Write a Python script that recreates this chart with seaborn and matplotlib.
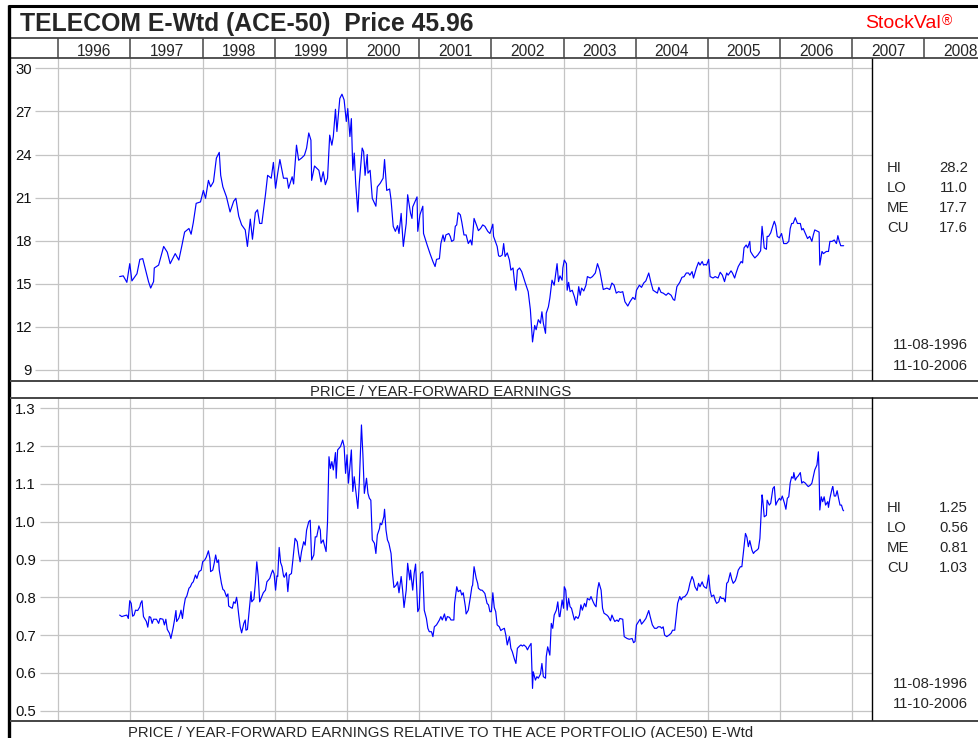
import matplotlib
matplotlib.use("Agg")

import matplotlib.pyplot as plt
import pandas as pd
import seaborn as sns

# ── data (decimal years, weekly-ish samples) ────────────────────────────────
pe_year = [
    1996.85, 1996.90, 1996.95, 1996.99, 1997.02, 1997.09, 1997.13, 1997.17, 1997.21, 1997.25,
    1997.28, 1997.32, 1997.33, 1997.39, 1997.46, 1997.51, 1997.55, 1997.62, 1997.67, 1997.71,
    1997.75, 1997.81, 1997.84, 1997.87, 1997.91, 1997.97, 1998.01, 1998.04, 1998.08, 1998.11,
    1998.15, 1998.19, 1998.23, 1998.25, 1998.28, 1998.33, 1998.38, 1998.43, 1998.46, 1998.50,
    1998.54, 1998.59, 1998.62, 1998.66, 1998.69, 1998.73, 1998.76, 1998.79, 1998.82, 1998.87,
    1998.90, 1998.95, 1998.98, 1999.01, 1999.04, 1999.07, 1999.12, 1999.17, 1999.19, 1999.24,
    1999.26, 1999.30, 1999.33, 1999.37, 1999.41, 1999.44, 1999.47, 1999.50, 1999.51, 1999.55,
    1999.61, 1999.64, 1999.67, 1999.70, 1999.73, 1999.76, 1999.79, 1999.81, 1999.84, 1999.86,
    1999.90, 1999.93, 1999.96, 1999.99, 2000.01, 2000.04, 2000.06, 2000.08, 2000.10, 2000.12,
    2000.15, 2000.17, 2000.21, 2000.23, 2000.25, 2000.28, 2000.29, 2000.32, 2000.35, 2000.40,
    2000.42, 2000.46, 2000.50, 2000.52, 2000.55, 2000.59, 2000.61, 2000.64, 2000.67, 2000.70,
    2000.72, 2000.75, 2000.78, 2000.82, 2000.84, 2000.88, 2000.90, 2000.91, 2000.94, 2000.97,
    2000.98, 2001.01, 2001.05, 2001.06, 2001.11, 2001.15, 2001.19, 2001.22, 2001.24, 2001.28,
    2001.30, 2001.33, 2001.35, 2001.37, 2001.41, 2001.43, 2001.45, 2001.48, 2001.50, 2001.52,
    2001.54, 2001.57, 2001.59, 2001.62, 2001.65, 2001.68, 2001.71, 2001.73, 2001.76, 2001.80,
    2001.82, 2001.85, 2001.88, 2001.91, 2001.95, 2001.98, 2002.02, 2002.03, 2002.08, 2002.10,
    2002.12, 2002.15, 2002.17, 2002.19, 2002.22, 2002.25, 2002.27, 2002.30, 2002.32, 2002.34,
    2002.36, 2002.39, 2002.42, 2002.47, 2002.51, 2002.54, 2002.57, 2002.60, 2002.62, 2002.65,
    2002.68, 2002.70, 2002.72, 2002.75, 2002.76, 2002.79, 2002.81, 2002.84, 2002.87, 2002.91,
    2002.93, 2002.95, 2002.98, 2002.99, 2003.01, 2003.04, 2003.05, 2003.07, 2003.09, 2003.12,
    2003.15, 2003.18, 2003.21, 2003.23, 2003.25, 2003.28, 2003.31, 2003.33, 2003.37, 2003.40,
    2003.44, 2003.47, 2003.50, 2003.53, 2003.55, 2003.60, 2003.64, 2003.67, 2003.70, 2003.73,
    2003.76, 2003.79, 2003.82, 2003.85, 2003.89, 2003.92, 2003.96, 2003.99, 2004.01, 2004.05,
    2004.08, 2004.11, 2004.14, 2004.18, 2004.21, 2004.24, 2004.27, 2004.30, 2004.32, 2004.35,
    2004.38, 2004.42, 2004.45, 2004.49, 2004.52, 2004.54, 2004.57, 2004.61, 2004.64, 2004.67,
    2004.70, 2004.73, 2004.75, 2004.78, 2004.80, 2004.84, 2004.87, 2004.89, 2004.92, 2004.94,
    2004.96, 2004.98, 2005.01, 2005.03, 2005.07, 2005.10, 2005.14, 2005.17, 2005.20, 2005.23,
    2005.26, 2005.28, 2005.32, 2005.34, 2005.37, 2005.39, 2005.42, 2005.46, 2005.48, 2005.50,
    2005.53, 2005.55, 2005.58, 2005.59, 2005.62, 2005.65, 2005.69, 2005.71, 2005.73, 2005.75,
    2005.77, 2005.78, 2005.81, 2005.82, 2005.84, 2005.87, 2005.90, 2005.92, 2005.94, 2005.96,
    2005.99, 2006.02, 2006.05, 2006.09, 2006.12, 2006.14, 2006.16, 2006.18, 2006.21, 2006.24,
    2006.28, 2006.30, 2006.32, 2006.35, 2006.38, 2006.41, 2006.44, 2006.46, 2006.48, 2006.52,
    2006.54, 2006.55, 2006.58, 2006.60, 2006.64, 2006.67, 2006.69, 2006.72, 2006.75, 2006.78,
    2006.80, 2006.82, 2006.84, 2006.88,
]
pe_value = [
    15.5, 15.55, 15.1, 16.4, 15.2, 15.7, 16.7, 16.75, 15.95, 15.15,
    14.7, 15.15, 16.1, 16.3, 17.6, 17.2, 16.4, 17.1, 16.65, 17.6,
    18.6, 18.85, 18.45, 19.25, 20.6, 20.7, 21.5, 20.95, 22.2, 21.75,
    22.1, 23.75, 24.15, 22.55, 21.75, 21.05, 20.0, 20.75, 20.95, 19.7,
    19.1, 18.75, 17.6, 19.5, 18.1, 19.95, 20.15, 19.2, 19.2, 21.2,
    22.55, 22.35, 23.45, 21.65, 22.7, 23.65, 22.35, 22.35, 21.65, 22.45,
    21.95, 24.65, 23.6, 23.75, 23.95, 24.45, 25.5, 25.0, 22.2, 23.2,
    22.9, 22.1, 22.8, 21.9, 22.35, 25.35, 24.65, 25.25, 27.15, 25.6,
    27.9, 28.2, 27.8, 26.3, 27.2, 25.25, 26.5, 22.9, 24.1, 22.0,
    20.0, 22.0, 24.45, 24.2, 22.55, 24.0, 22.7, 22.9, 20.95, 20.4,
    21.75, 22.0, 22.35, 23.65, 21.5, 21.6, 20.85, 19.0, 18.65, 19.05,
    18.5, 19.9, 17.6, 19.2, 21.2, 19.9, 19.55, 20.35, 20.7, 21.05,
    18.65, 19.8, 20.4, 18.5, 17.7, 17.1, 16.55, 16.2, 16.7, 16.75,
    17.8, 18.4, 17.95, 18.4, 18.5, 18.3, 17.95, 18.05, 19.0, 19.1,
    19.95, 19.8, 19.3, 18.4, 18.4, 17.8, 18.05, 17.7, 19.55, 19.0,
    18.7, 18.85, 19.1, 19.0, 18.65, 18.5, 19.15, 18.3, 17.6, 16.95,
    16.9, 17.0, 17.8, 16.9, 17.15, 16.65, 15.95, 16.1, 15.15, 14.55,
    15.95, 16.1, 15.85, 15.05, 14.45, 13.2, 10.95, 12.1, 11.8, 12.5,
    12.25, 13.05, 12.25, 11.55, 12.95, 13.4, 14.0, 15.25, 14.9, 16.4,
    15.15, 15.55, 15.25, 16.1, 16.65, 16.4, 14.55, 15.1, 14.45, 14.55,
    14.1, 13.5, 14.8, 14.2, 14.7, 14.5, 14.9, 15.5, 15.4, 15.5,
    15.75, 16.4, 15.95, 15.15, 14.6, 14.7, 14.6, 15.05, 14.9, 14.35,
    14.45, 14.4, 14.45, 13.75, 13.45, 13.75, 14.05, 13.9, 14.55, 14.9,
    14.75, 15.05, 15.2, 15.75, 15.1, 14.55, 14.45, 14.35, 14.75, 14.4,
    14.35, 14.2, 14.35, 14.2, 13.9, 13.85, 14.8, 15.1, 15.45, 15.5,
    15.75, 15.75, 15.6, 15.85, 15.4, 16.1, 16.5, 16.3, 16.55, 16.3,
    16.35, 16.3, 16.7, 15.5, 15.4, 15.5, 15.4, 15.8, 15.6, 15.15,
    15.75, 15.6, 15.9, 15.75, 15.4, 15.75, 16.2, 16.55, 16.45, 17.5,
    17.7, 17.5, 17.95, 17.25, 17.0, 16.8, 17.0, 17.15, 17.3, 19.0,
    18.05, 17.5, 17.4, 18.3, 18.3, 18.55, 19.05, 19.35, 19.05, 18.3,
    18.2, 18.5, 17.8, 17.8, 17.95, 18.85, 19.2, 19.2, 19.6, 19.2,
    19.2, 18.75, 18.85, 18.5, 18.15, 18.3, 17.95, 18.4, 18.75, 18.65,
    18.6, 16.3, 17.25, 17.1, 17.25, 17.25, 17.95, 17.95, 18.05, 17.8,
    18.35, 17.95, 17.65, 17.65,
]

rel_year = [
    1996.85, 1996.88, 1996.91, 1996.95, 1996.97, 1996.99, 1997.01, 1997.03, 1997.05, 1997.07,
    1997.10, 1997.13, 1997.14, 1997.16, 1997.18, 1997.22, 1997.24, 1997.26, 1997.28, 1997.30,
    1997.32, 1997.36, 1997.39, 1997.41, 1997.45, 1997.47, 1997.49, 1997.51, 1997.54, 1997.56,
    1997.59, 1997.61, 1997.63, 1997.64, 1997.67, 1997.69, 1997.70, 1997.72, 1997.74, 1997.76,
    1997.78, 1997.81, 1997.83, 1997.85, 1997.87, 1997.90, 1997.92, 1997.95, 1997.98, 1998.00,
    1998.03, 1998.05, 1998.08, 1998.10, 1998.11, 1998.14, 1998.16, 1998.18, 1998.20, 1998.22,
    1998.23, 1998.26, 1998.28, 1998.30, 1998.33, 1998.35, 1998.36, 1998.39, 1998.41, 1998.43,
    1998.45, 1998.47, 1998.48, 1998.50, 1998.52, 1998.54, 1998.57, 1998.59, 1998.60, 1998.62,
    1998.65, 1998.67, 1998.68, 1998.71, 1998.73, 1998.75, 1998.77, 1998.79, 1998.82, 1998.84,
    1998.87, 1998.89, 1998.93, 1998.95, 1998.97, 1998.99, 1999.01, 1999.03, 1999.04, 1999.06,
    1999.08, 1999.10, 1999.12, 1999.13, 1999.16, 1999.18, 1999.20, 1999.23, 1999.25, 1999.28,
    1999.31, 1999.33, 1999.35, 1999.37, 1999.40, 1999.42, 1999.44, 1999.47, 1999.49, 1999.51,
    1999.54, 1999.56, 1999.58, 1999.61, 1999.63, 1999.64, 1999.67, 1999.68, 1999.71, 1999.73,
    1999.75, 1999.77, 1999.79, 1999.81, 1999.84, 1999.85, 1999.87, 1999.91, 1999.94, 1999.96,
    1999.98, 2000.00, 2000.02, 2000.06, 2000.08, 2000.10, 2000.12, 2000.15, 2000.17, 2000.20,
    2000.22, 2000.24, 2000.27, 2000.29, 2000.31, 2000.33, 2000.35, 2000.38, 2000.40, 2000.42,
    2000.45, 2000.46, 2000.48, 2000.51, 2000.52, 2000.54, 2000.56, 2000.58, 2000.61, 2000.63,
    2000.65, 2000.68, 2000.70, 2000.72, 2000.75, 2000.77, 2000.79, 2000.82, 2000.84, 2000.87,
    2000.88, 2000.91, 2000.93, 2000.95, 2000.98, 2001.00, 2001.02, 2001.05, 2001.07, 2001.10,
    2001.12, 2001.14, 2001.17, 2001.19, 2001.21, 2001.24, 2001.28, 2001.30, 2001.32, 2001.35,
    2001.37, 2001.39, 2001.42, 2001.44, 2001.48, 2001.49, 2001.52, 2001.54, 2001.57, 2001.59,
    2001.61, 2001.64, 2001.65, 2001.68, 2001.71, 2001.73, 2001.74, 2001.76, 2001.79, 2001.81,
    2001.82, 2001.85, 2001.87, 2001.89, 2001.91, 2001.94, 2001.96, 2001.98, 2002.00, 2002.02,
    2002.04, 2002.06, 2002.08, 2002.11, 2002.13, 2002.15, 2002.18, 2002.20, 2002.22, 2002.25,
    2002.27, 2002.29, 2002.32, 2002.34, 2002.36, 2002.39, 2002.41, 2002.43, 2002.45, 2002.48,
    2002.50, 2002.52, 2002.55, 2002.57, 2002.58, 2002.61, 2002.63, 2002.65, 2002.68, 2002.70,
    2002.72, 2002.75, 2002.76, 2002.78, 2002.81, 2002.83, 2002.85, 2002.87, 2002.90, 2002.92,
    2002.94, 2002.95, 2002.98, 2003.00, 2003.01, 2003.03, 2003.05, 2003.07, 2003.09, 2003.11,
    2003.15, 2003.17, 2003.20, 2003.22, 2003.24, 2003.26, 2003.29, 2003.31, 2003.33, 2003.36,
    2003.38, 2003.41, 2003.43, 2003.45, 2003.47, 2003.49, 2003.52, 2003.54, 2003.56, 2003.60,
    2003.62, 2003.65, 2003.67, 2003.69, 2003.71, 2003.74, 2003.76, 2003.78, 2003.82, 2003.84,
    2003.88, 2003.91, 2003.95, 2003.97, 2003.99, 2004.01, 2004.04, 2004.06, 2004.08, 2004.11,
    2004.14, 2004.18, 2004.20, 2004.23, 2004.26, 2004.29, 2004.31, 2004.34, 2004.36, 2004.38,
    2004.40, 2004.43, 2004.46, 2004.49, 2004.51, 2004.54, 2004.56, 2004.58, 2004.61, 2004.63,
    2004.65, 2004.68, 2004.71, 2004.73, 2004.75, 2004.78, 2004.80, 2004.82, 2004.85, 2004.87,
    2004.89, 2004.92, 2004.94, 2004.96, 2004.98, 2005.01, 2005.03, 2005.05, 2005.08, 2005.10,
    2005.12, 2005.15, 2005.17, 2005.19, 2005.22, 2005.24, 2005.26, 2005.28, 2005.31, 2005.33,
    2005.35, 2005.38, 2005.40, 2005.42, 2005.45, 2005.47, 2005.49, 2005.52, 2005.54, 2005.56,
    2005.58, 2005.61, 2005.63, 2005.65, 2005.68, 2005.70, 2005.72, 2005.75, 2005.76, 2005.78,
    2005.81, 2005.82, 2005.85, 2005.87, 2005.90, 2005.92, 2005.94, 2005.96, 2005.99, 2006.01,
    2006.03, 2006.06, 2006.08, 2006.10, 2006.12, 2006.14, 2006.16, 2006.18, 2006.19, 2006.21,
    2006.23, 2006.25, 2006.28, 2006.30, 2006.32, 2006.35, 2006.37, 2006.39, 2006.42, 2006.44,
    2006.46, 2006.48, 2006.51, 2006.53, 2006.54, 2006.55, 2006.57, 2006.59, 2006.61, 2006.63,
    2006.66, 2006.67, 2006.69, 2006.72, 2006.73, 2006.75, 2006.77, 2006.79, 2006.81, 2006.83,
    2006.85, 2006.87, 2006.88,
]
rel_value = [
    0.753, 0.749, 0.751, 0.753, 0.744, 0.791, 0.784, 0.750, 0.753, 0.766,
    0.765, 0.775, 0.784, 0.791, 0.749, 0.736, 0.721, 0.749, 0.747, 0.731,
    0.742, 0.742, 0.731, 0.744, 0.742, 0.727, 0.742, 0.715, 0.705, 0.691,
    0.718, 0.740, 0.765, 0.736, 0.745, 0.758, 0.766, 0.744, 0.775, 0.797,
    0.803, 0.824, 0.828, 0.837, 0.841, 0.859, 0.850, 0.868, 0.872, 0.894,
    0.899, 0.906, 0.923, 0.903, 0.868, 0.872, 0.890, 0.912, 0.892, 0.899,
    0.872, 0.837, 0.821, 0.818, 0.802, 0.809, 0.777, 0.773, 0.771, 0.788,
    0.784, 0.800, 0.788, 0.753, 0.722, 0.706, 0.731, 0.740, 0.713, 0.715,
    0.775, 0.815, 0.788, 0.795, 0.837, 0.894, 0.855, 0.788, 0.802, 0.812,
    0.819, 0.841, 0.850, 0.862, 0.872, 0.862, 0.819, 0.857, 0.855, 0.932,
    0.892, 0.881, 0.857, 0.853, 0.865, 0.815, 0.859, 0.863, 0.899, 0.956,
    0.947, 0.916, 0.894, 0.921, 0.947, 0.938, 0.978, 1.000, 1.004, 0.899,
    0.912, 0.960, 0.960, 0.989, 0.978, 0.943, 0.952, 0.943, 0.921, 1.000,
    1.172, 1.141, 1.159, 1.137, 1.183, 1.115, 1.190, 1.199, 1.216, 1.199,
    1.128, 1.177, 1.102, 1.190, 1.080, 1.119, 1.084, 1.035, 1.102, 1.256,
    1.177, 1.075, 1.115, 1.075, 1.062, 1.057, 0.952, 0.943, 0.916, 0.965,
    0.982, 0.996, 0.992, 1.013, 1.033, 0.978, 0.952, 0.943, 0.916, 0.863,
    0.826, 0.832, 0.841, 0.812, 0.855, 0.819, 0.773, 0.819, 0.890, 0.846,
    0.872, 0.819, 0.863, 0.888, 0.762, 0.771, 0.863, 0.868, 0.766, 0.744,
    0.718, 0.709, 0.709, 0.696, 0.722, 0.727, 0.740, 0.749, 0.740, 0.756,
    0.738, 0.749, 0.747, 0.740, 0.740, 0.784, 0.828, 0.815, 0.819, 0.806,
    0.812, 0.775, 0.756, 0.766, 0.802, 0.828, 0.832, 0.881, 0.850, 0.837,
    0.824, 0.819, 0.819, 0.815, 0.810, 0.784, 0.780, 0.762, 0.762, 0.812,
    0.773, 0.762, 0.727, 0.722, 0.712, 0.715, 0.718, 0.700, 0.674, 0.696,
    0.665, 0.656, 0.636, 0.625, 0.665, 0.671, 0.674, 0.671, 0.674, 0.669,
    0.661, 0.669, 0.678, 0.559, 0.603, 0.581, 0.590, 0.586, 0.597, 0.625,
    0.590, 0.586, 0.643, 0.669, 0.647, 0.731, 0.718, 0.753, 0.766, 0.788,
    0.749, 0.749, 0.793, 0.771, 0.828, 0.819, 0.766, 0.797, 0.775, 0.771,
    0.740, 0.749, 0.744, 0.753, 0.780, 0.766, 0.784, 0.775, 0.797, 0.793,
    0.802, 0.788, 0.780, 0.775, 0.819, 0.839, 0.819, 0.771, 0.758, 0.753,
    0.749, 0.738, 0.753, 0.744, 0.736, 0.740, 0.736, 0.744, 0.742, 0.696,
    0.691, 0.689, 0.691, 0.680, 0.683, 0.727, 0.736, 0.742, 0.729, 0.736,
    0.744, 0.765, 0.749, 0.727, 0.718, 0.718, 0.722, 0.722, 0.718, 0.722,
    0.700, 0.696, 0.700, 0.705, 0.713, 0.713, 0.749, 0.784, 0.802, 0.793,
    0.800, 0.802, 0.809, 0.819, 0.837, 0.855, 0.846, 0.828, 0.818, 0.837,
    0.828, 0.841, 0.830, 0.826, 0.824, 0.859, 0.819, 0.802, 0.806, 0.793,
    0.784, 0.788, 0.802, 0.797, 0.797, 0.788, 0.837, 0.841, 0.865, 0.848,
    0.837, 0.844, 0.856, 0.872, 0.881, 0.881, 0.916, 0.969, 0.959, 0.934,
    0.950, 0.925, 0.916, 0.921, 0.925, 0.929, 0.956, 1.071, 1.057, 1.013,
    1.017, 1.057, 1.044, 1.049, 1.088, 1.093, 1.044, 1.053, 1.062, 1.057,
    1.068, 1.049, 1.033, 1.062, 1.066, 1.103, 1.119, 1.115, 1.130, 1.110,
    1.117, 1.121, 1.130, 1.102, 1.106, 1.102, 1.097, 1.093, 1.097, 1.102,
    1.119, 1.137, 1.150, 1.185, 1.128, 1.031, 1.066, 1.053, 1.066, 1.044,
    1.053, 1.038, 1.062, 1.088, 1.093, 1.068, 1.068, 1.082, 1.062, 1.044,
    1.044, 1.031, 1.029,
]

header_years = list(range(1996, 2009))
pe_ticks = [9, 12, 15, 18, 21, 24, 27, 30]
rel_ticks = [0.5, 0.6, 0.7, 0.8, 0.9, 1.0, 1.1, 1.2, 1.3]
stat_names = ["HI", "LO", "ME", "CU"]
pe_stats = ["28.2", "11.0", "17.7", "17.6"]
rel_stats = ["1.25", "0.56", "0.81", "1.03"]
date_span = ["11-08-1996", "11-10-2006"]

TITLE = "TELECOM E-Wtd (ACE-50)  Price 45.96"
PE_LABEL = "PRICE / YEAR-FORWARD EARNINGS"
REL_LABEL = "PRICE / YEAR-FORWARD EARNINGS RELATIVE TO THE ACE PORTFOLIO (ACE50) E-Wtd"

# ── style ────────────────────────────────────────────────────────────────────
sns.set_style("white")
plt.rcParams["font.family"] = ["Liberation Sans", "DejaVu Sans"]
FS = 10.7
GRID = "#c4c4c4"
RULE = "#454545"
BLUE = "#0000ff"

W, H = 979, 738
X_LEFT, X_RIGHT, X_HEAD = 1995.331, 2007.273, 2008.756


def px_rect(x0, y0, x1, y1):
    return [x0 / W, 1 - y1 / H, (x1 - x0) / W, (y1 - y0) / H]


def draw_panel(ax, xs, ys, ticks, ylim, fmt, label_px, grid_from):
    df = pd.DataFrame({"year": xs, "value": ys})
    sns.lineplot(data=df, x="year", y="value", ax=ax, color=BLUE, lw=0.85,
                 estimator=None, sort=False)
    ax.set_xlim(X_LEFT, X_RIGHT)
    ax.set_ylim(*ylim)
    ax.set_xticks(header_years[:-1])
    ax.set_yticks(ticks)
    ax.set_yticklabels([fmt.format(t) for t in ticks])
    ax.tick_params(axis="y", length=0, pad=-label_px * 0.72, labelsize=FS,
                   labelcolor="#111111")
    ax.tick_params(axis="x", length=0, labelbottom=False)
    ax.grid(axis="x", color=GRID, lw=0.9)
    ax.hlines(ticks, grid_from, 1, transform=ax.get_yaxis_transform(),
              color=GRID, lw=0.9, zorder=0.5)
    for s in ax.spines.values():
        s.set_visible(False)
    ax.set_xlabel("")
    ax.set_ylabel("")


fig = plt.figure(figsize=(W / 100, H / 100), dpi=100)

ax_pe = fig.add_axes(px_rect(10, 58, 872, 380))
draw_panel(ax_pe, pe_year, pe_value, pe_ticks, (8.30, 30.72), "{:.0f}", 22, 0.029)

ax_rel = fig.add_axes(px_rect(10, 397, 872, 720))
draw_panel(ax_rel, rel_year, rel_value, rel_ticks, (0.4754, 1.330), "{:.1f}", 26, 0.035)

# year header row, on the same year scale as the panels
hdr = fig.add_axes(px_rect(10, 38, 979, 58))
hdr.set_xlim(X_LEFT, X_HEAD)
hdr.set_ylim(0, 1)
for yr in header_years:
    hdr.axvline(yr, color=RULE, lw=1.1)
    hdr.text(yr + 0.5, 0.12, str(yr), ha="center", va="baseline", fontsize=11.2)
hdr.set_xticks([])
hdr.set_yticks([])
for side in ("left", "right"):
    hdr.spines[side].set_visible(False)
for side in ("top", "bottom"):
    hdr.spines[side].set_color(RULE)
    hdr.spines[side].set_linewidth(1.3)

# frame, rules and text in pixel space
ov = fig.add_axes([0, 0, 1, 1], zorder=10)
ov.set_xlim(0, W)
ov.set_ylim(H, 0)
ov.axis("off")

ov.plot([8, W], [6, 6], color="black", lw=2.2, solid_capstyle="butt")
ov.plot([9, 9], [5, H], color="black", lw=2.4, solid_capstyle="butt")
ov.hlines([380.5, 397.5, 720.5], 10, W, color=RULE, lw=1.4)
ov.vlines(872, 58, 380, color="black", lw=1.0)
ov.vlines(872, 397, 720, color="black", lw=1.0)

ov.text(20, 30.5, TITLE, fontsize=17.8, fontweight="bold", ha="left", va="baseline")
ov.text(941, 28.5, "StockVal", fontsize=14, color="#ff0000", ha="right", va="baseline")
ov.text(941.5, 25, "\u00ae", fontsize=10, color="#ff0000", ha="left", va="baseline")

ov.text(441, 396, PE_LABEL, fontsize=FS, ha="center", va="baseline")
ov.text(441, 736.5, REL_LABEL, fontsize=FS, ha="center", va="baseline")

for i, name in enumerate(stat_names):
    for base, vals in ((171.5, pe_stats), (511.5, rel_stats)):
        y = base + 20 * i
        ov.text(887, y, name, fontsize=FS, ha="left", va="baseline")
        ov.text(968, y, vals[i], fontsize=FS, ha="right", va="baseline")

for j, d in enumerate(date_span):
    ov.text(968, 349 + 20.5 * j, d, fontsize=FS, ha="right", va="baseline")
    ov.text(968, 688.5 + 20 * j, d, fontsize=FS, ha="right", va="baseline")

fig.savefig("out.png", dpi=100)
plt.close(fig)
